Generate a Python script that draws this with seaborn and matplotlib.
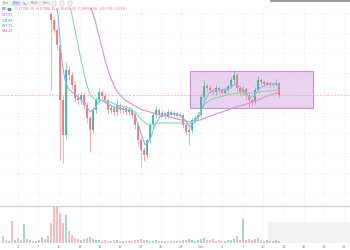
import numpy as np
import pandas as pd
import matplotlib
matplotlib.use("Agg")
import matplotlib.pyplot as plt
import seaborn as sns
from matplotlib.patches import Rectangle

# ---------------- data (price in chart units) ----------------
first_open = 191
close = [185, 175, 160, 105, 70, 135, 130, 120, 107, 105,
         110, 100, 87, 75, 95, 105, 113, 109, 105, 95,
         97, 93, 100, 95, 97, 93, 95, 90, 80, 65,
         55, 50, 65, 80, 90, 95, 90, 92, 89, 93,
         90, 92, 89, 90, 80, 73, 75, 85, 87, 90,
         108, 119, 117, 115, 113, 117, 115, 112, 115, 119,
         125, 130, 117, 113, 116, 110, 105, 103, 115, 125,
         123, 121, 122, 120, 121, 122, 110]
high = [193, 188, 178, 162, 110, 143, 139, 133, 124, 112,
        114, 113, 103, 90, 98, 108, 117, 115, 112, 107,
        100, 100, 107, 102, 99, 100, 98, 97, 92, 82,
        68, 58, 67, 83, 93, 99, 97, 95, 94, 96,
        95, 94, 94, 93, 92, 82, 78, 87, 90, 93,
        111, 125, 121, 120, 117, 120, 119, 117, 118, 121,
        128, 135, 132, 119, 119, 118, 112, 107, 118, 129,
        127, 125, 124, 124, 123, 126, 123]
low = [115, 172, 155, 45, 42, 66, 125, 116, 103, 100,
       101, 96, 82, 53, 72, 92, 102, 105, 101, 91,
       92, 89, 90, 92, 92, 90, 90, 87, 76, 60,
       38, 44, 47, 62, 77, 87, 87, 88, 86, 87,
       87, 88, 86, 87, 77, 70, 60, 72, 83, 84,
       88, 106, 113, 112, 110, 110, 112, 109, 110, 112,
       117, 122, 114, 110, 110, 107, 98, 99, 101, 113,
       120, 118, 119, 117, 118, 119, 108]
volume = [20, 37, 37, 30, 20, 28, 12, 8, 5, 4,
          3, 4, 5, 6, 4, 3, 3, 2, 3, 2,
          2, 3, 3, 2, 2, 2, 2, 2, 3, 3,
          4, 3, 3, 2, 2, 3, 2, 2, 2, 1,
          2, 2, 2, 2, 3, 3, 4, 3, 2, 3,
          4, 5, 3, 3, 4, 2, 3, 2, 2, 3,
          3, 4, 7, 3, 24, 3, 4, 3, 4, 5,
          3, 2, 3, 2, 2, 3, 2]
pre_volume = [7, 3, 2, 22, 3, 5, 3, 19, 4, 3, 2, 2, 3, 6, 4, 7]
pre_up = [0, 0, 1, 0, 1, 0, 1, 1, 0, 1, 0, 1, 0, 1, 0, 1]

ma_fast_x = [56, 58, 60, 62, 65, 68, 72, 76, 80, 85, 90, 95, 100, 105, 110, 115, 120, 125, 130, 135,
             140, 145, 150, 155, 160, 165, 170, 175, 180, 185, 190, 195, 200, 205, 210, 215, 220, 225,
             230, 235, 240, 245, 250, 255, 260, 265, 270, 275, 279]
ma_fast = [200, 190, 165, 143, 125, 117, 113, 110, 106, 102, 93, 97, 105, 103, 100, 97, 97, 95, 95, 90,
           75, 60, 65, 80, 88, 90, 91, 91, 90, 85, 78, 83, 90, 105, 113, 115, 115, 115,
           117, 121, 118, 113, 107, 110, 117, 120, 121, 121, 119]
ma_mid_x = [69, 72, 75, 80, 85, 90, 95, 100, 105, 110, 115, 120, 125, 130, 135, 140, 145, 150, 155,
            160, 170, 180, 185, 190, 195, 200, 205, 210, 215, 220, 230, 240, 250, 260, 270, 279]
ma_mid = [205, 190, 175, 150, 127, 110, 106, 105, 104, 103, 101, 99, 98, 97, 93, 87, 82, 80, 81,
          82, 82, 82, 81, 81, 85, 93, 101, 105, 107, 108, 111, 112, 112, 113, 114, 115]
ma_slow_x = [88, 90, 95, 100, 105, 110, 115, 120, 125, 130, 135, 143, 150, 160, 170, 177, 190, 200,
             213, 225, 233, 250, 265, 279]
ma_slow = [205, 200, 185, 165, 145, 129, 117, 110, 105, 102, 99, 95, 93, 90, 88, 86, 83, 85,
           90, 94, 97, 102, 108, 113]

tick_pos = [18, 38, 59, 80, 100, 120, 141, 161, 181, 201, 222, 243, 263, 284, 304, 324, 344]
tick_labels = ["4", "7", "10", "13", "16", "19", "22", "25", "28", "Nov",
               "4", "7", "10", "13", "16", "19", "22"]
legend_values = ["137.91", "128.89", "583.95", "542.45"]

# ---------------- style ----------------
sns.set_theme(style="white")
plt.rcParams['font.family'] = ['DejaVu Sans']

UP = "#2fb38a"
DOWN = "#f06c6c"
W, H = 350, 250

fig = plt.figure(figsize=(3.5, 2.5), dpi=100)
fig.patch.set_facecolor("white")

ax = fig.add_axes([0, (H - 205) / H, 1, (205 - 8) / H])
axv = fig.add_axes([0, (H - 243) / H, 1, (243 - 206) / H])

n = len(close)
cx = 51 + 3 * np.arange(n)
opens = [first_open] + close[:-1]
df = pd.DataFrame({"x": cx, "open": opens, "close": close, "high": high, "low": low, "vol": volume})
df["up"] = df["close"] >= df["open"]
df["color"] = np.where(df["up"], UP, DOWN)

# grid
for a in (ax, axv):
    a.set_xlim(0, W)
    for t in tick_pos:
        a.axvline(t, color="#e4e4e4", lw=0.4, ls=(0, (1, 1.5)), zorder=0)
    for s in a.spines.values():
        s.set_visible(False)
    a.set_yticks([])
ax.set_ylim(0, 197)
for gy in [12, 32, 52, 72, 92, 112, 132, 152, 172, 192]:
    ax.axhline(gy, color="#e4e4e4", lw=0.4, ls=(0, (1, 1.5)), zorder=0)
ax.set_xticks([])

# consolidation box
ax.add_patch(Rectangle((190, 205 - 108), 123, 37, facecolor="#e6cbed", edgecolor="#c882d2",
                       lw=0.8, alpha=0.85, zorder=1))
# dashed reference line
ax.axhline(110, color="#f4a6b8", lw=0.5, ls=(0, (3, 2)), zorder=1)

# candles
ax.vlines(df["x"], df["low"], df["high"], colors=df["color"], lw=0.5, alpha=0.75, zorder=3)
body_bot = np.minimum(df["open"], df["close"])
body_h = np.maximum(np.abs(df["close"] - df["open"]), 1.0)
ax.bar(df["x"], body_h, bottom=body_bot, width=2.2, color=df["color"], alpha=0.8,
       linewidth=0, zorder=4)

# moving averages
sns.lineplot(x=ma_slow_x, y=ma_slow, ax=ax, color="#e08fd6", lw=0.8, zorder=5)
sns.lineplot(x=ma_mid_x, y=ma_mid, ax=ax, color="#86dcae", lw=0.8, zorder=5)
sns.lineplot(x=ma_fast_x, y=ma_fast, ax=ax, color="#93b2f5", lw=0.8, zorder=5)

# volume
pre_x = 3 + 3 * np.arange(len(pre_volume))
vx = np.concatenate([pre_x, cx])
vv = np.concatenate([pre_volume, volume])
vc = [UP if u else DOWN for u in pre_up] + list(df["color"])
axv.add_patch(Rectangle((268, 0), 82, 21, facecolor="#f3f3f3", edgecolor="none", zorder=0))
axv.bar(vx, vv, width=2.4, color=vc, alpha=0.45, linewidth=0, zorder=2)
axv.set_ylim(0, 37)
axv.set_xticks(tick_pos)
axv.set_xticklabels(tick_labels, fontsize=2.6, color="#888888")
axv.tick_params(axis="x", length=0, pad=1.2)

# separator line between panels
fig.add_artist(plt.Line2D([0, 1], [(H - 205.5) / H] * 2, color="#d0d0d0", lw=0.9))

# toolbar
def ftxt(x, y, s, **kw):
    fig.text(x / W, 1 - y / H, s, va="center", **kw)

for lbl, x0, wdt in [("Hour", 2, 9), ("Week", 12, 9), ("Day", 22, 7), ("Month", 30, 10), ("Years", 41, 9)]:
    fc = "#cfe0fb" if lbl == "Week" else "#f2f2f2"
    fig.add_artist(Rectangle((x0 / W, 1 - 6 / H), wdt / W, 5 / H, facecolor=fc, edgecolor="#dddddd",
                             lw=0.3, transform=fig.transFigure))
    ftxt(x0 + 1, 3.5, lbl, fontsize=1.8, color="#888888")
for x0 in [52, 60, 68]:
    fig.add_artist(Rectangle((x0 / W, 1 - 6 / H), 4 / W, 5 / H, facecolor="#f2f2f2",
                             edgecolor="#bbbbbb", lw=0.3, transform=fig.transFigure))
fig.add_artist(Rectangle((270 / W, 1 - 2 / H), 80 / W, 2 / H, facecolor="#9a9a9a",
                         edgecolor="none", transform=fig.transFigure))

# header
ftxt(2, 9.5, "BBI", fontsize=2.3, color="#555555")
fig.add_artist(plt.Circle((9.5 / W, 1 - 9.5 / H), 1.4 / W, color="#2fb38a", transform=fig.transFigure))
ftxt(15, 9.5, "O 17382.75  H 17386.25  L 16835.25  C 16858.50  -523.00 (-3.01%)",
     fontsize=2.3, color="#f06c6c")
for val, yy, col in zip(legend_values, [15, 20.5, 26, 31.5], ["#d24bd2", "#4f7df0", "#2fb38a", "#b03fa8"]):
    ftxt(2, yy, val, fontsize=2.3, color=col)

fig.savefig("out.png", dpi=100)
